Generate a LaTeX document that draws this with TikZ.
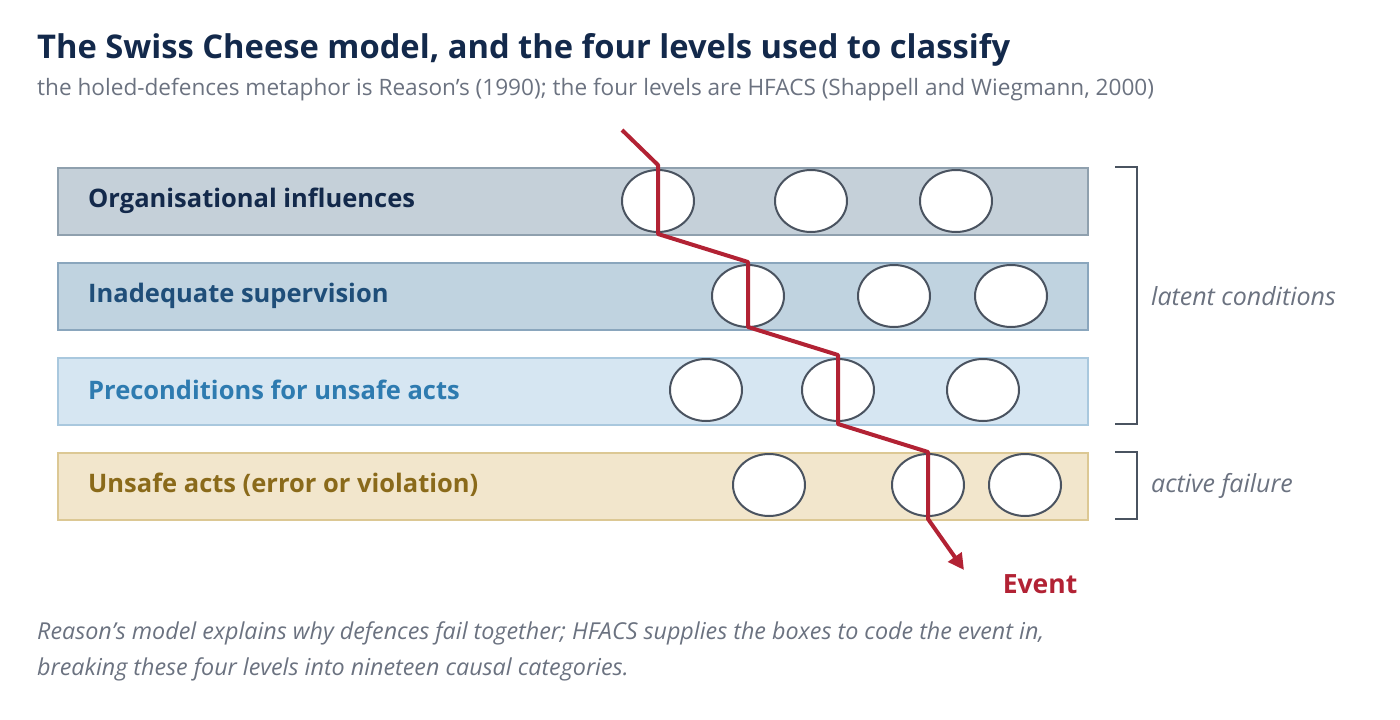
\documentclass[tikz,border=0pt]{standalone}
\usepackage{fontspec}
\setmainfont{Open Sans}
\usetikzlibrary{arrows.meta,shapes.geometric}
\definecolor{navy}{HTML}{13294B}
\definecolor{gray1}{HTML}{6B7280}
\definecolor{redc}{HTML}{B22234}
\definecolor{holec}{HTML}{4A5360}
\definecolor{d1}{HTML}{8FA0AE}\definecolor{f1}{HTML}{C5D0D9}\definecolor{t1}{HTML}{13294B}
\definecolor{d2}{HTML}{8AA6BD}\definecolor{f2}{HTML}{C0D3E0}\definecolor{t2}{HTML}{1F4E79}
\definecolor{d3}{HTML}{A9C8DE}\definecolor{f3}{HTML}{D6E6F2}\definecolor{t3}{HTML}{2E7BB0}
\definecolor{d4}{HTML}{DCC894}\definecolor{f4}{HTML}{F2E6CC}\definecolor{t4}{HTML}{8A6A1A}
\newcommand{\sq}{\symbol{39}}
\begin{document}
\begin{tikzpicture}[x=1pt,y=-1pt,
 bar/.style={draw=d#1,fill=f#1,line width=2pt,minimum width=1030pt,minimum height=67pt,anchor=north west},
 lab/.style={anchor=west,inner sep=0pt,text=t#1,font=\fontsize{25.5}{30}\selectfont\bfseries},
 hole/.style={ellipse,draw=holec,fill=white,line width=2pt,minimum width=72pt,minimum height=62pt,inner sep=0pt},
 side/.style={anchor=west,inner sep=0pt,text=gray1,font=\fontsize{25}{29}\selectfont\itshape},
 br/.style={draw=holec,line width=2pt},
 foot/.style={anchor=base west,inner sep=0pt,text=gray1,font=\fontsize{23.3}{27}\selectfont\itshape}]
\useasboundingbox (0,0) rectangle (1400,720);
\node[anchor=base west,inner sep=0pt,text=navy,font=\fontsize{32.7}{38}\selectfont\bfseries] (title) at (37,58) {The Swiss Cheese model, and the four levels used to classify};
\node[anchor=base west,inner sep=0pt,text=gray1,font=\fontsize{22.6}{26}\selectfont] (sub) at (37,95) {the holed-defences metaphor is Reason\sq s (1990); the four levels are HFACS (Shappell and Wiegmann, 2000)};
\node[bar=1] (b1) at (57,167) {};
\node[bar=2] (b2) at (57,262) {};
\node[bar=3] (b3) at (57,357) {};
\node[bar=4] (b4) at (57,452) {};
\node[lab=1] at (88,201) {Organisational influences};
\node[lab=2] at (88,296) {Inadequate supervision};
\node[lab=3] at (88,390) {Preconditions for unsafe acts};
\node[lab=4] at (88,485) {Unsafe acts (error or violation)};
\foreach \x/\y [count=\i] in {658/201,811/201,956/201,748/296,894/296,1011/296,706/390,838/390,983/390,769/485,928/485,1025/485}
  \node[hole] (h\i) at (\x,\y) {};
\coordinate (s) at (622,130);
\coordinate (e) at (964,570);
\draw[redc,line width=4pt,line join=round,-{Triangle[length=16pt,width=16pt]}] (s) -- (658,165) -- (658,234) -- (748,262) -- (748,327) -- (838,355) -- (838,424) -- (928,452) -- (928,519) -- (e);
\node[anchor=base,text=redc,font=\fontsize{26.5}{30}\selectfont\bfseries] (ev) at (1040,593) {Event};
\draw[br] (1115,167) -- (1137,167) -- (1137,424) -- (1115,424);
\draw[br] (1115,452) -- (1137,452) -- (1137,519) -- (1115,519);
\node[side] (lc) at (1151,296) {latent conditions};
\node[side] (af) at (1151,486) {active failure};
\node[foot] (f1) at (37,639) {Reason\sq s model explains why defences fail together; HFACS supplies the boxes to code the event in,};
\node[foot] (f2) at (37,675) {breaking these four levels into nineteen causal categories.};
\end{tikzpicture}
\end{document}
